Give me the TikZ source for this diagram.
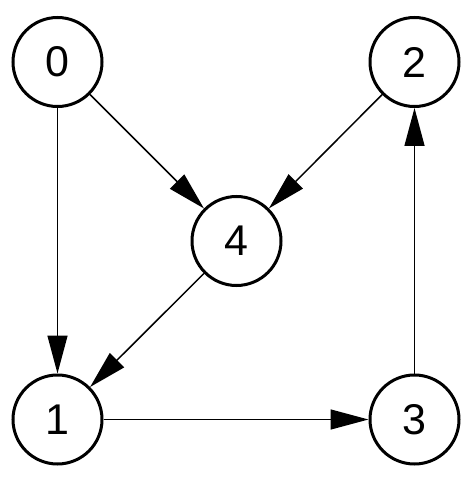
\documentclass[tikz,border=0pt]{standalone}
\usepackage{fontspec}
\setmainfont{Liberation Sans}
\usetikzlibrary{arrows.meta}
\begin{document}
\begin{tikzpicture}[x=1pt,y=-1pt,
  vertex/.style={circle,draw,line width=3pt,minimum size=89pt,inner sep=0pt,
    font=\fontsize{43}{43}\selectfont},
  edge/.style={line width=1.5pt,-{Triangle[length=38pt,width=20pt]}}]
\useasboundingbox (0,0) rectangle (470,478);
\node[vertex] (n0) at (57.5,62) {0};
\node[vertex] (n2) at (414.5,62) {2};
\node[vertex] (n4) at (236.5,241) {4};
\node[vertex] (n1) at (57.5,419.5) {1};
\node[vertex] (n3) at (414.5,419.5) {3};
\draw[edge] (n0) -- (n4);
\draw[edge] (n0) -- (n1);
\draw[edge] (n2) -- (n4);
\draw[edge] (n4) -- (n1);
\draw[edge] (n1) -- (n3);
\draw[edge] (n3) -- (n2);
\end{tikzpicture}
\end{document}
